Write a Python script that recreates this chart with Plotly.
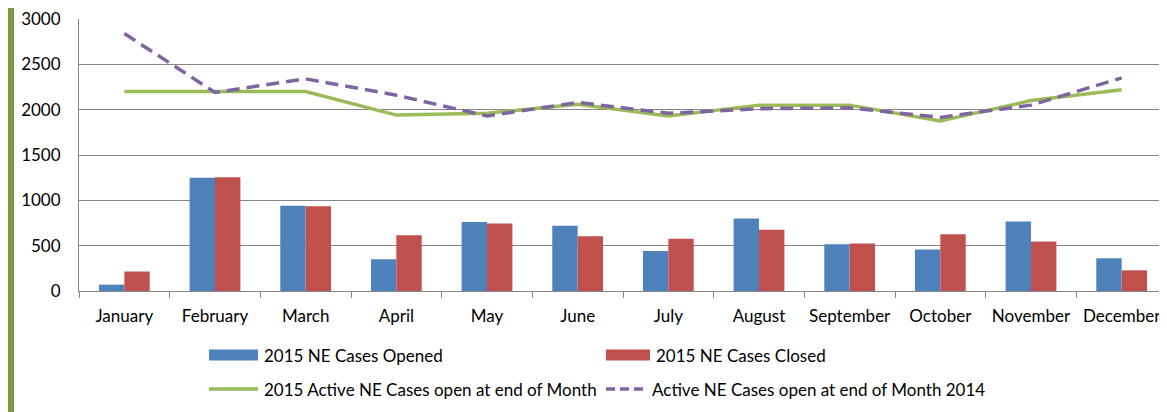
import plotly.graph_objects as go

months = ["January", "February", "March", "April", "May", "June", "July",
          "August", "September", "October", "November", "December"]
opened_2015 = [70, 1250, 940, 350, 760, 720, 440, 800, 515, 457, 766, 361]
closed_2015 = [215, 1255, 935, 615, 745, 605, 575, 675, 525, 626, 545, 228]
active_2015 = [2200, 2200, 2200, 1940, 1960, 2060, 1930, 2050, 2050, 1875, 2100, 2220]
active_2014 = [2840, 2190, 2340, 2160, 1930, 2080, 1960, 2010, 2020, 1915, 2050, 2350]

names = ["2015 NE Cases Opened", "2015 NE Cases Closed",
         "2015 Active NE Cases open at end of Month",
         "Active NE Cases open at end of Month 2014"]

BLUE, RED, GREEN, PURPLE = "#4F81BD", "#C0504D", "#9BBB59", "#8064A2"
FONT = "Lato"
FS = 17
DASH = "13px,7px"

# page has an 8px body margin; size the figure to fit the window
OFF = 8
W, H = 1167 - OFF, 412 - OFF
L, R, T, B = 79 - OFF, 0, 19 - OFF, 412 - 291
pw, ph = W - L - R, H - T - B

def px(x):  # screen pixel x -> paper
    return (x - OFF - L) / pw

def py(y):  # screen pixel y -> paper
    return (H - B - (y - OFF)) / ph

fig = go.Figure()
fig.add_trace(go.Bar(x=months, y=opened_2015, name=names[0], marker_color=BLUE,
                     marker_line_width=0))
fig.add_trace(go.Bar(x=months, y=closed_2015, name=names[1], marker_color=RED,
                     marker_line_width=0))
fig.add_trace(go.Scatter(x=months, y=active_2015, name=names[2], mode="lines",
                         line=dict(color=GREEN, width=3.5)))
fig.add_trace(go.Scatter(x=months, y=active_2014, name=names[3], mode="lines",
                         line=dict(color=PURPLE, width=3.5, dash=DASH)))

shapes = []
annotations = []
# left decorative green bar
shapes.append(dict(type="rect", xref="paper", yref="paper",
                   x0=px(8), x1=px(14), y0=py(412), y1=py(0),
                   fillcolor="#7F9A3E", line_width=0, layer="above"))

# custom legend
legend_items = [
    (names[0], "bar", BLUE, 209, 258, 355),
    (names[1], "bar", RED, 606, 650, 355),
    (names[2], "line", GREEN, 209, 258, 389),
    (names[3], "dash", PURPLE, 606, 646, 389),
]
for name, kind, color, x0, x1, yc in legend_items:
    if kind == "bar":
        shapes.append(dict(type="rect", xref="paper", yref="paper",
                           x0=px(x0), x1=px(x1), y0=py(yc + 5.5), y1=py(yc - 5.5),
                           fillcolor=color, line_width=0))
    else:
        shapes.append(dict(type="line", xref="paper", yref="paper",
                           x0=px(x0), x1=px(x1), y0=py(yc), y1=py(yc),
                           line=dict(color=color, width=3.5,
                                     dash="9px,5px" if kind == "dash" else "solid")))
    annotations.append(dict(text=name, xref="paper", yref="paper",
                            x=px(x1 + 4), y=py(yc), xanchor="left", yanchor="middle",
                            showarrow=False, font=dict(family=FONT, size=FS, color="#000")))

fig.update_layout(
    width=W, height=H,
    margin=dict(l=L, r=R, t=T, b=B, autoexpand=False),
    paper_bgcolor="white", plot_bgcolor="white",
    barmode="group", bargap=0.44, bargroupgap=0,
    showlegend=False,
    font=dict(family=FONT, size=FS, color="#000"),
    shapes=shapes, annotations=annotations,
    xaxis=dict(type="category", showline=True, linecolor="#868686", linewidth=1,
               automargin=False, tickangle=0, ticklabelstandoff=10,
               ticklabeloverflow="allow",
               ticks="outside", tickson="boundaries", ticklen=6, tickcolor="#868686",
               showgrid=False, tickfont=dict(family=FONT, size=FS, color="#000")),
    yaxis=dict(range=[0, 3000], dtick=500, showline=True, linecolor="#868686",
               automargin=False, ticklabeloverflow="allow",
               linewidth=1, showgrid=True, gridcolor="#868686", gridwidth=1,
               zeroline=False, ticks="", ticklabelstandoff=14,
               tickfont=dict(family=FONT, size=FS, color="#000")),
)

fig.write_html("out.html")
